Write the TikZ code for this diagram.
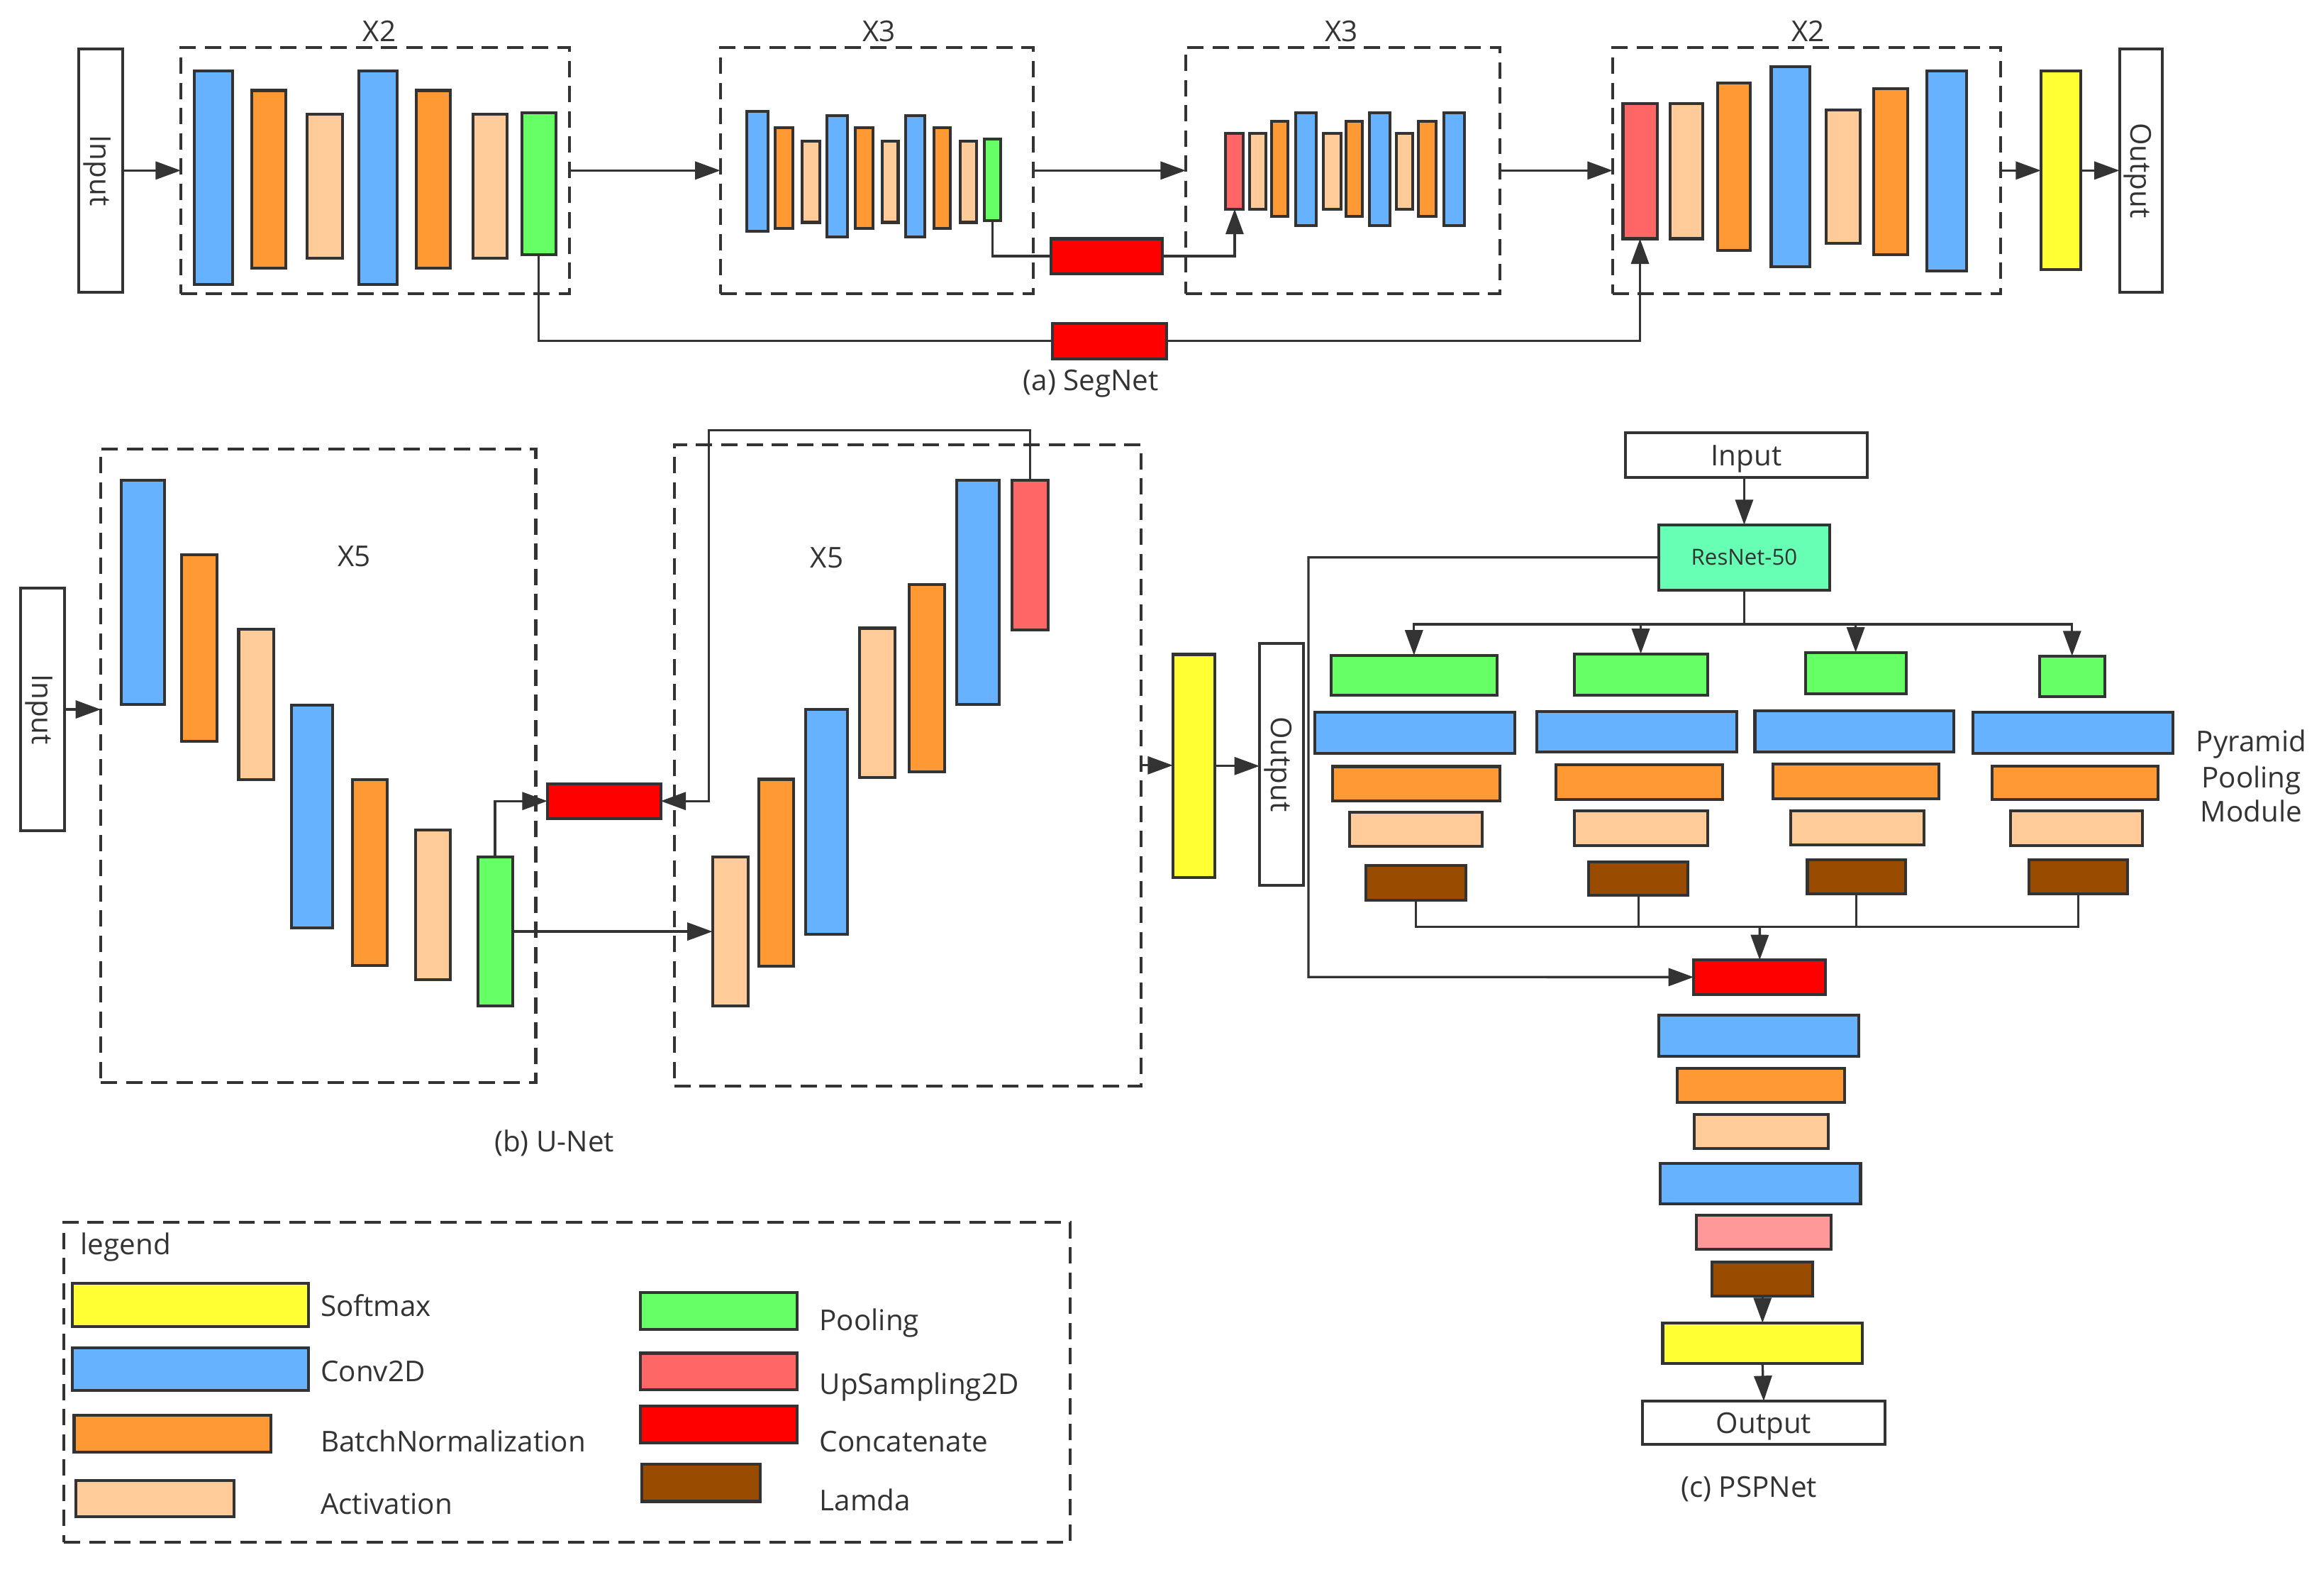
\documentclass[tikz,border=0pt]{standalone}
\usepackage{fontspec}
\setmainfont{Open Sans}
\usetikzlibrary{arrows.meta}
\definecolor{lc}{HTML}{333333}
\definecolor{cblue}{HTML}{66B2FF}
\definecolor{corange}{HTML}{FF9933}
\definecolor{cpeach}{HTML}{FFCC99}
\definecolor{cgreen}{HTML}{66FF66}
\definecolor{cup}{HTML}{FF6666}
\definecolor{ccat}{HTML}{FF0000}
\definecolor{cyellow}{HTML}{FFFF33}
\definecolor{cbrown}{HTML}{994C00}
\definecolor{cmint}{HTML}{66FFB3}
\definecolor{cpink}{HTML}{FF9999}
\newcommand{\blkn}[6]{\node[blk,fill=#2,minimum width={(#5-#3)*0.02cm},minimum height={(#6-#4)*0.02cm}] (#1) at ({(#3+#5)/2},{(#4+#6)/2}) {};}
\newcommand{\dbn}[5]{\node[dbox,minimum width={(#4-#2)*0.02cm},minimum height={(#5-#3)*0.02cm}] (#1) at ({(#2+#4)/2},{(#3+#5)/2}) {};}
\begin{document}
\begin{tikzpicture}[x=0.02cm,y=-0.02cm,
 blk/.style={draw=lc,line width=1.1pt,inner sep=0pt,outer sep=0pt,rectangle},
 dbox/.style={draw=lc,line width=1.1pt,dash pattern=on 0.22cm off 0.12cm,inner sep=0pt,outer sep=0pt,rectangle},
 ln/.style={draw=lc,line width=0.9pt},
 arr/.style={ln,-{Triangle[length=0.34cm,width=0.24cm]}},
 txt/.style={text=lc,font=\fontsize{11}{13}\selectfont,inner sep=0pt},
 iot/.style={blk,fill=white,text=lc,font=\fontsize{11}{13}\selectfont,text depth=0pt}]
\useasboundingbox (0,0) rectangle (1568,1063.2);
\fill[white] (0,0) rectangle (1568,1063.2);

% ================= (a) SegNet =================
\dbn{boxA1}{122}{32}{384}{198}
\dbn{boxA2}{486}{32}{697}{198}
\dbn{boxA3}{800}{32}{1012}{198}
\dbn{boxA4}{1088}{32}{1350}{198}
\node[txt,anchor=base] (tA1) at (256,28) {X2};
\node[txt,anchor=base] (tA2) at (593,28) {X3};
\node[txt,anchor=base] (tA3) at (905,28) {X3};
\node[txt,anchor=base] (tA4) at (1220,28) {X2};
\node[iot,rotate=-90,minimum width={164*0.02cm},minimum height={30*0.02cm}] (aIn) at (68,115) {Input};
\node[iot,rotate=-90,minimum width={164*0.02cm},minimum height={29*0.02cm}] (aOut) at (1444.5,115) {Output};

\blkn{a1}{cblue}{131}{48}{157}{192}
\blkn{a2}{corange}{170}{61}{193}{181}
\blkn{a3}{cpeach}{207}{77}{231}{174}
\blkn{a4}{cblue}{242}{48}{268}{192}
\blkn{a5}{corange}{281}{61}{304}{181}
\blkn{a6}{cpeach}{319}{77}{342}{174}
\blkn{a7}{cgreen}{352}{76}{375}{172}

\blkn{b1}{cblue}{504}{75}{518}{156}
\blkn{b2}{corange}{523}{86}{535}{154}
\blkn{b3}{cpeach}{541}{95}{553}{150}
\blkn{b4}{cblue}{558}{78}{572}{160}
\blkn{b5}{corange}{577}{86}{589}{154}
\blkn{b6}{cpeach}{595}{95}{606}{150}
\blkn{b7}{cblue}{611}{78}{624}{160}
\blkn{b8}{corange}{630}{86}{641}{154}
\blkn{b9}{cpeach}{648}{95}{659}{150}
\blkn{b10}{cgreen}{664}{94}{675}{149}

\blkn{c1}{cup}{827}{90}{839}{141}
\blkn{c2}{cpeach}{843}{90}{854}{141}
\blkn{c3}{corange}{858}{82}{869}{146}
\blkn{c4}{cblue}{874}{76}{888}{152}
\blkn{c5}{cpeach}{893}{90}{905}{141}
\blkn{c6}{corange}{908}{82}{919}{146}
\blkn{c7}{cblue}{924}{76}{938}{152}
\blkn{c8}{cpeach}{942}{90}{953}{141}
\blkn{c9}{corange}{957}{82}{969}{146}
\blkn{c10}{cblue}{974}{76}{988}{152}

\blkn{d1}{cup}{1095}{70}{1118}{161}
\blkn{d2}{cpeach}{1127}{70}{1149}{161}
\blkn{d3}{corange}{1159}{56}{1181}{169}
\blkn{d4}{cblue}{1195}{45}{1221}{180}
\blkn{d5}{cpeach}{1232}{74}{1255}{164}
\blkn{d6}{corange}{1264}{60}{1287}{172}
\blkn{d7}{cblue}{1300}{48}{1327}{183}
\blkn{aY}{cyellow}{1377}{48}{1404}{182}

\blkn{catA1}{ccat}{709}{161}{784}{184.5}
\blkn{catA2}{ccat}{710}{218}{787}{242}

\draw[arr] (aIn.north) -- (boxA1.west);
\draw[arr] (boxA1.east) -- (boxA2.west);
\draw[arr] (boxA2.east) -- (boxA3.west);
\draw[arr] (boxA3.east) -- (boxA4.west);
\draw[arr] (boxA4.east) -- (aY.west);
\draw[arr] (aY.east) -- (aOut.south);
\draw[ln] (a7.south) |- (catA2.west);
\draw[arr] (catA2.east) -| (d1.south);
\draw[ln] (b10.south) |- (catA1.west);
\draw[arr] (catA1.east) -| (c1.south);
\node[txt,anchor=base] (capA) at (736,263.5) {(a) SegNet};

% ================= (b) U-Net =================
\dbn{boxB1}{68}{302.7}{361.5}{730}
\dbn{boxB2}{455}{300}{770}{732.4}
\node[txt,anchor=base] (tB1) at (239,382.2) {X5};
\node[txt,anchor=base] (tB2) at (558,382.8) {X5};
\node[iot,rotate=-90,minimum width={163.5*0.02cm},minimum height={29.6*0.02cm}] (bIn) at (28.8,478.5) {Input};
\node[iot,rotate=-90,minimum width={163.2*0.02cm},minimum height={29.8*0.02cm}] (bOut) at (864.7,515.4) {Output};

\blkn{e1}{cblue}{82}{324}{111}{475}
\blkn{e2}{corange}{122.5}{374}{146.5}{500}
\blkn{e3}{cpeach}{161}{424.5}{184.5}{526}
\blkn{e4}{cblue}{196.7}{475.6}{224.2}{626}
\blkn{e5}{corange}{237.7}{526}{261.2}{651}
\blkn{e6}{cpeach}{280.3}{560}{303.8}{661}
\blkn{e7}{cgreen}{322.3}{578}{345.8}{678.6}
\blkn{catB}{ccat}{369.3}{528.6}{445.8}{552}

\blkn{f1}{cpeach}{480.7}{578}{504.6}{678.6}
\blkn{f2}{corange}{512}{525.6}{535.4}{651.7}
\blkn{f3}{cblue}{543.5}{478.6}{572}{630.3}
\blkn{f4}{cpeach}{580}{423.7}{604}{524.4}
\blkn{f5}{corange}{613.5}{394.4}{637.5}{520.7}
\blkn{f6}{cblue}{645.5}{323.9}{674.3}{475.3}
\blkn{f7}{cup}{683}{323.9}{707}{425}
\blkn{bY}{cyellow}{791.3}{441.4}{819.8}{591.9}

\draw[arr] (bIn.north) -- (bIn.north -| boxB1.west);
\draw[arr] (e7.north) |- (catB.west);
\coordinate (loopR) at (695,290.3);
\coordinate (loopL) at (478.4,290.3);
\draw[arr] (f7.north) -- (loopR) -- (loopL) |- (catB.east);
\draw[arr] (e7.east) -- (f1.west);
\draw[arr] (boxB2.east) -- (boxB2.east -| bY.west);
\draw[arr] (bY.east) -- (bY.east -| bOut.south);
\node[txt,anchor=base] (capB) at (374,777) {(b) U-Net};

% ================= (c) PSPNet =================
\node[iot,minimum width={163*0.02cm},minimum height={30*0.02cm}] (inC) at (1178.3,307) {Input};
\node[blk,fill=cmint,text=lc,font=\fontsize{8.5}{10}\selectfont,minimum width={115.5*0.02cm},minimum height={44*0.02cm}] (resC) at (1176.8,376) {ResNet-50};

\blkn{g1}{cgreen}{898}{442}{1010}{469}
\blkn{g2}{cgreen}{1062}{441}{1152}{469}
\blkn{g3}{cgreen}{1218}{440}{1286}{468}
\blkn{g4}{cgreen}{1376}{442.5}{1420}{470}
\blkn{h1}{cblue}{887}{480.6}{1022}{508.2}
\blkn{h2}{cblue}{1037}{480}{1172}{507.4}
\blkn{h3}{cblue}{1184}{479.4}{1318}{507}
\blkn{h4}{cblue}{1331}{480.6}{1466}{508.2}
\blkn{i1}{corange}{899}{517}{1012}{540}
\blkn{i2}{corange}{1050}{516}{1162}{539.4}
\blkn{i3}{corange}{1196}{515.5}{1308}{538.7}
\blkn{i4}{corange}{1344}{516.7}{1456}{539.4}
\blkn{j1}{cpeach}{910.6}{547.7}{1000.2}{571}
\blkn{j2}{cpeach}{1062}{547}{1152}{570.4}
\blkn{j3}{cpeach}{1208}{546.7}{1298}{570}
\blkn{j4}{cpeach}{1356.5}{547}{1445.6}{570.4}
\blkn{k1}{cbrown}{921.6}{583.8}{989.2}{607}
\blkn{k2}{cbrown}{1072}{581.4}{1139}{604}
\blkn{k3}{cbrown}{1219.4}{580}{1285.7}{603}
\blkn{k4}{cbrown}{1369}{580}{1435.5}{603}
\node[txt,anchor=base] (pp1) at (1519,507) {Pyramid};
\node[txt,anchor=base] (pp2) at (1519,531.4) {Pooling};
\node[txt,anchor=base] (pp3) at (1519,554.5) {Module};

\blkn{catC}{ccat}{1142.7}{647.5}{1231.8}{670.6}
\blkn{m1}{cblue}{1119.3}{684.8}{1254.3}{712.3}
\blkn{m2}{corange}{1131.8}{720.6}{1244.5}{743.4}
\blkn{m3}{cpeach}{1143}{751.7}{1233.3}{774.8}
\blkn{m4}{cblue}{1120.3}{784.7}{1255.3}{812}
\blkn{m5}{cpink}{1144.7}{819.7}{1235.3}{842.8}
\blkn{m6}{cbrown}{1155.2}{851.4}{1223.1}{874.2}
\blkn{m7}{cyellow}{1121.8}{892.3}{1256.5}{919.6}
\node[iot,minimum width={164*0.02cm},minimum height={29.3*0.02cm}] (outC) at (1190,959.6) {Output};

\draw[arr] (inC.south -| resC.north) -- (resC.north);
\coordinate (spl) at (1176.8,421);
\draw[ln] (resC.south) -- (spl);
\draw[arr] (spl) -| (g1.north);
\draw[arr] (spl) -| (g2.north);
\draw[arr] (spl) -| (g3.north);
\draw[arr] (spl) -| (g4.north);
\coordinate (mrg) at (1187.3,625);
\draw[ln] (k1.south) |- (mrg);
\draw[ln] (k2.south) |- (mrg);
\draw[ln] (k3.south) |- (mrg);
\draw[ln] (k4.south) |- (mrg);
\draw[arr] (mrg) -- (catC.north);
\coordinate (skp) at (882.8,659);
\draw[arr] (resC.west) -| (skp) -- (catC.west);
\draw[arr] (m6.south) -- (m7.north);
\draw[arr] (m7.south) -- (outC.north);
\node[txt,anchor=base] (capC) at (1180,1009.9) {(c) PSPNet};

% ================= legend =================
\dbn{lbox}{43.2}{824.3}{721.9}{1040.4}
\node[txt,anchor=base west] (lt) at (54,846) {legend};
\blkn{ly}{cyellow}{49}{865.6}{208}{894.8}
\blkn{lb}{cblue}{49}{909}{208}{938}
\blkn{lo}{corange}{50}{954.4}{183}{979.3}
\blkn{la}{cpeach}{51}{998.4}{158}{1023}
\blkn{lg}{cgreen}{432}{872}{538}{896.5}
\blkn{lu}{cup}{432}{912.7}{538}{937.3}
\blkn{lcat}{ccat}{432}{948.4}{538}{973}
\blkn{ll}{cbrown}{433}{987.7}{513}{1012.7}
\node[txt,anchor=base west] (lyt) at (216,888) {Softmax};
\node[txt,anchor=base west] (lbt) at (216,931.7) {Conv2D};
\node[txt,anchor=base west] (lot) at (216,979.3) {BatchNormalization};
\node[txt,anchor=base west] (lat) at (216,1021.4) {Activation};
\node[txt,anchor=base west] (lgt) at (552.6,897.6) {Pooling};
\node[txt,anchor=base west] (lut) at (552.6,940.5) {UpSampling2D};
\node[txt,anchor=base west] (lct) at (552.6,979.3) {Concatenate};
\node[txt,anchor=base west] (llt) at (552.6,1019) {Lamda};
\end{tikzpicture}
\end{document}
